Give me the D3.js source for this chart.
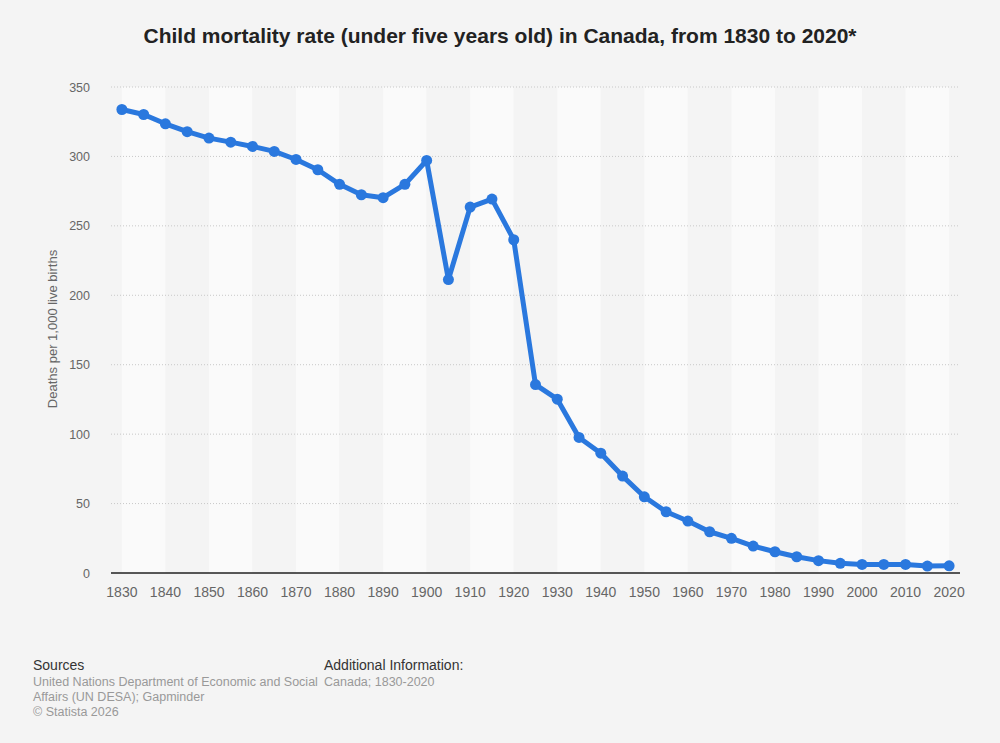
<!DOCTYPE html>
<html>
<head>
<meta charset="utf-8">
<script src="https://cdn.jsdelivr.net/npm/d3@7"></script>
<style>
  body { margin: 0; background: #f4f4f4; font-family: "Liberation Sans", Arial, sans-serif; }
  svg text { font-family: "Liberation Sans", Arial, sans-serif; }
</style>
</head>
<body>
<svg id="chart" width="1000" height="743"></svg>
<script>
// data
var years = [1830, 1835, 1840, 1845, 1850, 1855, 1860, 1865, 1870, 1875,
             1880, 1885, 1890, 1895, 1900, 1905, 1910, 1915, 1920, 1925,
             1930, 1935, 1940, 1945, 1950, 1955, 1960, 1965, 1970, 1975,
             1980, 1985, 1990, 1995, 2000, 2005, 2010, 2015, 2020];
var rates = [333.8, 330.2, 323.5, 317.8, 313.2, 310.3, 307.2, 303.6, 297.8, 290.4,
             279.9, 272.4, 270.3, 279.9, 297.1, 211.3, 263.5, 269.3, 240.0, 135.7,
             125.2, 97.6, 86.3, 69.8, 54.9, 44.1, 37.4, 29.7, 25.0, 19.4,
             15.3, 11.7, 8.9, 7.0, 6.2, 6.2, 6.2, 5.0, 5.2];
var yTicks = [0, 50, 100, 150, 200, 250, 300, 350];
var xTicks = years.filter(function(d) { return d % 10 == 0; });

var margin = {top: 87, right: 40, bottom: 170, left: 111};
var width = 1000 - margin.left - margin.right;
var height = 743 - margin.top - margin.bottom;

var svg = d3.select('#chart');

svg.append('rect')
  .attr('width', 1000).attr('height', 743)
  .attr('fill', '#f4f4f4');

var chart = svg.append('g')
  .attr('transform', 'translate(' + margin.left + ',' + margin.top + ')');

var x = d3.scaleBand()
  .domain(years)
  .range([0, width]);

var xc = function(d) { return x(d) + x.bandwidth() / 2; };

var y = d3.scaleLinear()
  .domain([0, 350])
  .range([height, 0]);

// alternating plot bands between decade ticks
for (var i = 0; i < xTicks.length - 1; i++) {
  chart.append('rect')
    .attr('x', xc(xTicks[i]))
    .attr('y', 0)
    .attr('width', xc(xTicks[i + 1]) - xc(xTicks[i]))
    .attr('height', height)
    .attr('fill', i % 2 == 0 ? '#fafafa' : '#f4f4f4');
}

// grid lines
chart.selectAll('.grid')
  .data(yTicks.slice(1))
  .enter().append('line')
    .attr('class', 'grid')
    .attr('x1', 0).attr('x2', width)
    .attr('y1', function(d) { return y(d); })
    .attr('y2', function(d) { return y(d); })
    .attr('stroke', '#c8c8c8')
    .attr('stroke-width', 1)
    .attr('stroke-dasharray', '1,2');

// y axis
var yAxis = d3.axisLeft(y).tickValues(yTicks).tickSize(0).tickPadding(21);
chart.append('g')
  .call(yAxis)
  .call(function(g) { g.select('.domain').remove(); })
  .selectAll('text')
    .attr('fill', '#666')
    .style('font-size', '12.5px');

// x axis
var xAxis = d3.axisBottom(x).tickValues(xTicks).tickSize(0).tickPadding(14);
chart.append('g')
  .attr('transform', 'translate(0,' + height + ')')
  .call(xAxis)
  .call(function(g) { g.select('.domain').remove(); })
  .selectAll('text')
    .attr('fill', '#666')
    .style('font-size', '14px');

// zero line
chart.append('line')
  .attr('x1', 0).attr('x2', width)
  .attr('y1', y(0)).attr('y2', y(0))
  .attr('stroke', '#222')
  .attr('stroke-width', 1.5);

// y axis title
svg.append('text')
  .attr('transform', 'translate(57,' + (margin.top + height / 2 - 1) + ') rotate(-90)')
  .style('text-anchor', 'middle')
  .style('font-size', '13px')
  .attr('fill', '#666')
  .text('Deaths per 1,000 live births');

// line
var line = d3.line()
  .x(function(d, i) { return xc(years[i]); })
  .y(function(d) { return y(d); });

chart.append('path')
  .datum(rates)
  .attr('d', line)
  .attr('fill', 'none')
  .attr('stroke', '#2a78de')
  .attr('stroke-width', 5)
  .attr('stroke-linejoin', 'round');

chart.selectAll('.dot')
  .data(rates)
  .enter().append('circle')
    .attr('class', 'dot')
    .attr('cx', function(d, i) { return xc(years[i]); })
    .attr('cy', function(d) { return y(d); })
    .attr('r', 5.5)
    .attr('fill', '#2a78de');

// title
svg.append('text')
  .attr('x', 500).attr('y', 43)
  .style('text-anchor', 'middle')
  .style('font-size', '21px')
  .style('font-weight', 'bold')
  .attr('fill', '#222')
  .text('Child mortality rate (under five years old) in Canada, from 1830 to 2020*');

// footer
var foot = svg.append('g').style('font-size', '12.5px');
foot.append('text').attr('x', 33).attr('y', 670).attr('fill', '#333').style('font-size', '14px').text('Sources');
foot.append('text').attr('x', 33).attr('y', 686).attr('fill', '#999').text('United Nations Department of Economic and Social');
foot.append('text').attr('x', 33).attr('y', 701).attr('fill', '#999').text('Affairs (UN DESA); Gapminder');
foot.append('text').attr('x', 33).attr('y', 716).attr('fill', '#999').text('\u00a9 Statista 2026');
foot.append('text').attr('x', 324).attr('y', 670).attr('fill', '#333').style('font-size', '14px').text('Additional Information:');
foot.append('text').attr('x', 324).attr('y', 686).attr('fill', '#999').text('Canada; 1830-2020');
</script>
</body>
</html>
